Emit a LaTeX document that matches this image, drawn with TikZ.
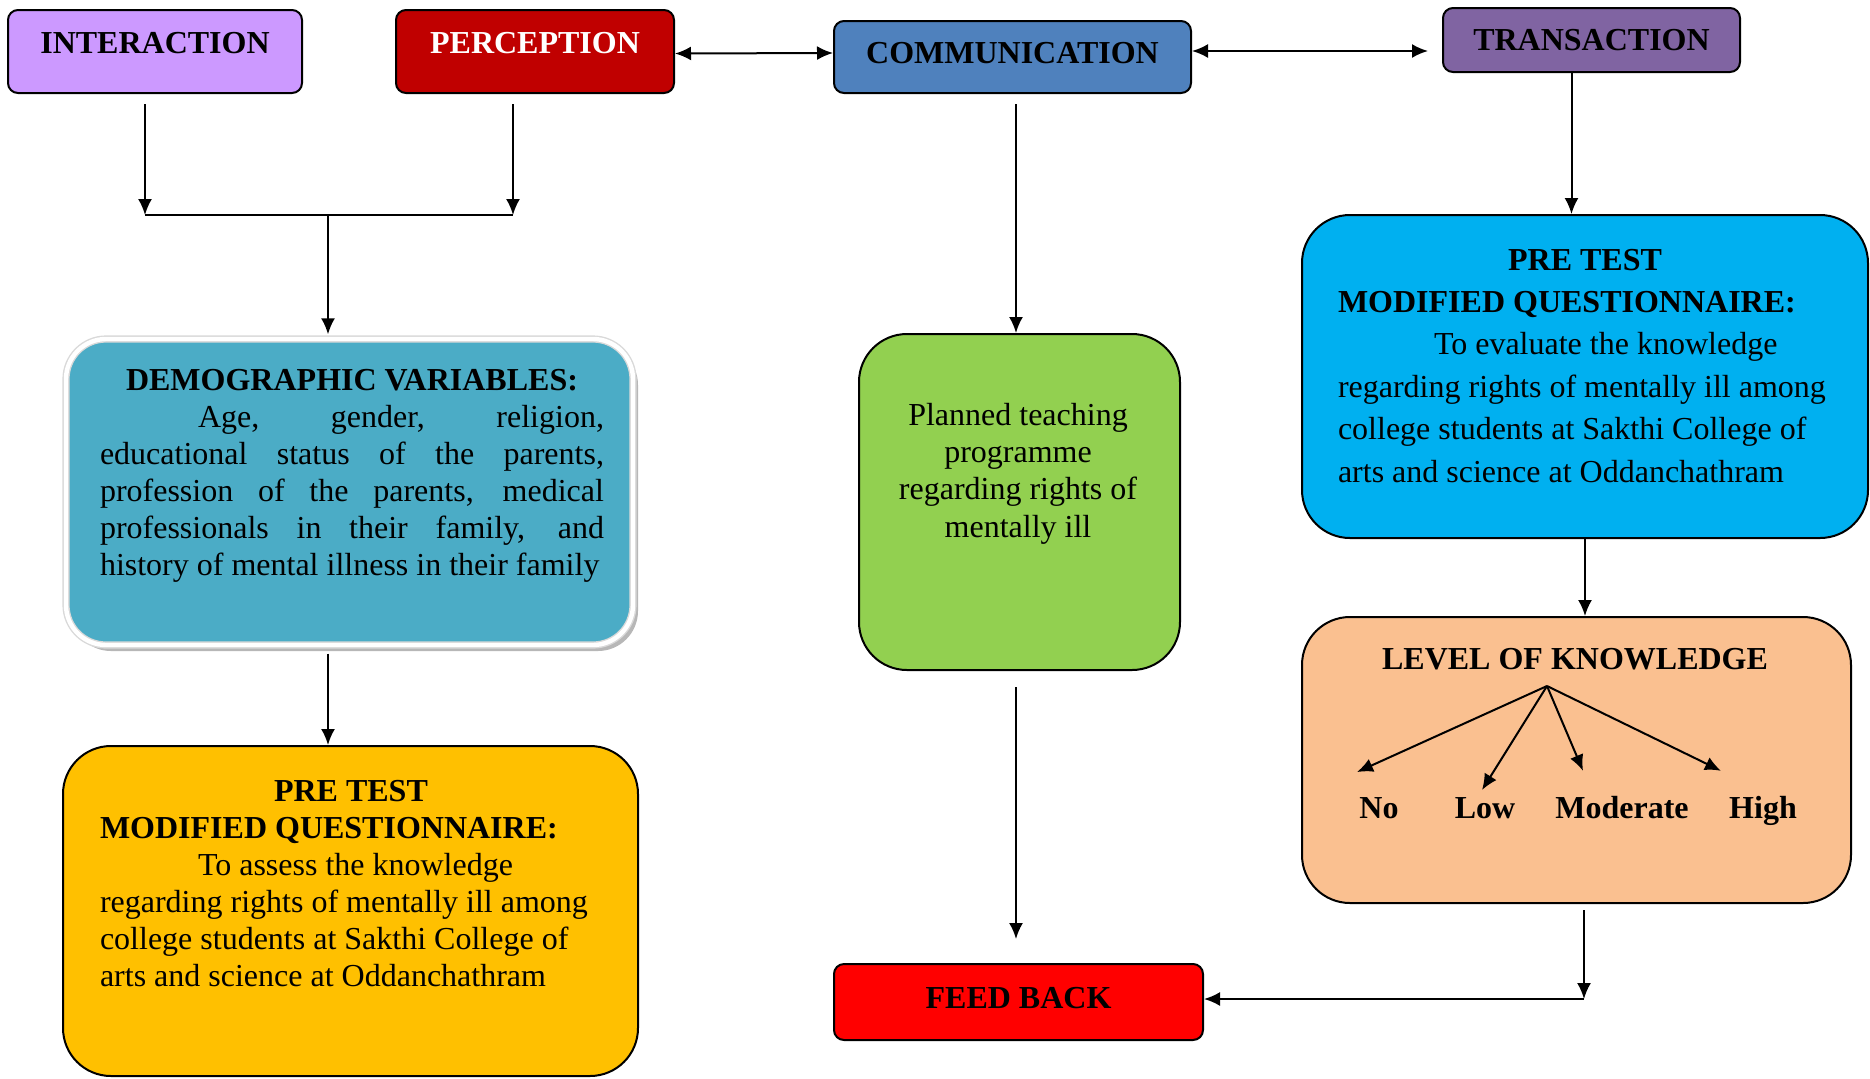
\documentclass[tikz,border=0pt]{standalone}
\usepackage{fontspec}
\setmainfont{Liberation Serif}
\usetikzlibrary{arrows.meta,shadows}

\definecolor{interpurple}{HTML}{CC99FF}
\definecolor{percepred}{HTML}{C00000}
\definecolor{commblue}{HTML}{4F81BD}
\definecolor{transpurple}{HTML}{8064A2}
\definecolor{demoteal}{HTML}{4BACC6}
\definecolor{pretestgold}{HTML}{FFC000}
\definecolor{teachgreen}{HTML}{92D050}
\definecolor{pretestcyan}{HTML}{00B0F0}
\definecolor{levelorange}{HTML}{FAC090}
\definecolor{feedred}{HTML}{FF0000}

\begin{document}
\begin{tikzpicture}[x=0.5pt,y=-0.5pt,
  >={Latex[length=8pt,width=7pt]}, line width=1pt,
  font=\fontsize{16}{18.5}\selectfont,
  headbox/.style={draw, line width=1pt, rounded corners=5pt, inner sep=0pt,
    font=\fontsize{16}{18.5}\selectfont\bfseries},
  bigbox/.style={draw, line width=1pt, rounded corners=24pt, inner sep=0pt},
  txt/.style={inner sep=0pt, anchor=base west},
  lvl/.style={inner sep=0pt, anchor=base, font=\fontsize{16}{18.5}\selectfont\bfseries}]

\useasboundingbox (0,0) rectangle (1870,1078);

% top row
\node (inter) at (155,51.5) [headbox, fill=interpurple, minimum width=147pt, minimum height=41.5pt, text height=11pt, text depth=9.5pt] {INTERACTION};
\node (percep) at (535,51.5) [headbox, fill=percepred, text=white, minimum width=139pt, minimum height=41.5pt, text height=11pt, text depth=9.5pt] {PERCEPTION};
\node (comm) at (1012.5,57) [headbox, fill=commblue, minimum width=178.5pt, minimum height=36pt, text height=11pt, text depth=5pt] {COMMUNICATION};
\node (trans) at (1591.5,40) [headbox, fill=transpurple, minimum width=148.5pt, minimum height=32pt] {TRANSACTION};

% left column
\node (demo) at (349.5,492) [bigbox, rounded corners=20pt, fill=demoteal, draw=gray!30, double=white, double distance=2.2pt, line width=0.7pt, minimum width=283.5pt, minimum height=153pt, drop shadow={shadow xshift=2.5pt, shadow yshift=-3pt, fill=gray!80, opacity=.7}] {};
\node (demotxt) at (99,390) [txt] {\parbox[t]{252pt}{{\centering\bfseries DEMOGRAPHIC VARIABLES:\par}
\hspace*{49pt}Age, gender, religion,\linebreak educational status of the parents,\linebreak profession of the parents, medical\linebreak professionals in their family, and\linebreak history of mental illness in their family}};

\node (preL) at (350.5,911) [bigbox, fill=pretestgold, minimum width=287.5pt, minimum height=165pt] {};
\node (preLtxt) at (99,801) [txt] {\parbox[t]{251pt}{{\centering\bfseries PRE TEST\par}\textbf{MODIFIED QUESTIONNAIRE:}\\
\hspace*{49pt}To assess the knowledge\\ regarding rights of mentally ill among\\ college students at Sakthi College of\\ arts and science at Oddanchathram}};

% middle column
\node (teach) at (1019.5,502) [bigbox, fill=teachgreen, minimum width=160.5pt, minimum height=168pt] {};
\node (teachtxt) at (1018,425) [inner sep=0pt, anchor=base] {\parbox[t]{170pt}{\centering\fontsize{16}{18.7}\selectfont Planned teaching\\ programme\\ regarding rights of\\ mentally ill}};
\node (feed) at (1018.5,1002) [headbox, fill=feedred, minimum width=184.5pt, minimum height=38pt, text height=11pt, text depth=5pt] {FEED BACK};

% right column
\node (preR) at (1585,376.5) [bigbox, fill=pretestcyan, minimum width=283pt, minimum height=161.5pt] {};
\node (preRtxt) at (1337,270) [txt] {\parbox[t]{247pt}{\fontsize{16}{21.2}\selectfont{\centering\bfseries PRE TEST\par}\textbf{MODIFIED QUESTIONNAIRE:}\\
\hspace*{48pt}To evaluate the knowledge\\ regarding rights of mentally ill among\\ college students at Sakthi College of\\ arts and science at Oddanchathram}};

\node (level) at (1576.5,760) [bigbox, fill=levelorange, minimum width=274.5pt, minimum height=143pt] {};
\node (lvltitle) at (1575,669) [lvl] {LEVEL OF KNOWLEDGE};
\node (no) at (1379,818) [lvl] {No};
\node (low) at (1485,818) [lvl] {Low};
\node (mod) at (1622,818) [lvl] {Moderate};
\node (high) at (1763,818) [lvl] {High};
\coordinate (fan) at (1547,686);
\draw [->] (fan) -- ([xshift=-11pt,yshift=12pt]no.north);
\draw [->] (fan) -- ([xshift=-1.5pt,yshift=3pt]low.north);
\draw [->] (fan) -- ([xshift=-19.5pt,yshift=12pt]mod.north);
\draw [->] (fan) -- ([xshift=-21pt,yshift=12pt]high.north);

% connectors
\coordinate (jl) at (145,215);
\coordinate (jr) at (513,215);
\coordinate (jm) at (328,215);
\coordinate (cm) at (1016,0);
\coordinate (kc) at (1584,999);

\draw [->, shorten <=5pt] (inter.south -| jl) -- (jl);
\draw [->, shorten <=5pt] (percep.south -| jr) -- (jr);
\draw (jl) -- (jr);
\draw [->, shorten >=2pt] (jm) -- (demo.north -| jm);
\draw [->, shorten <=4pt] (demo.south -| jm) -- (preL.north -| jm);

\draw [<->] ([yshift=-1pt]percep.east) -- ([yshift=2pt]comm.west);
\draw [<->, shorten >=7pt] ([yshift=3pt]comm.east) -- ([yshift=3pt]comm.east -| trans.west);
\draw [->, shorten <=5pt] (comm.south -| cm) -- (teach.north -| cm);
\draw [->, shorten <=8pt, shorten >=12pt] (teach.south -| cm) -- (feed.north -| cm);

\draw [->] ([xshift=-10pt]trans.south) -- ([xshift=-10pt]trans.south |- preR.north);
\draw [->] (preR.south) -- (preR.south |- level.north);
\draw [->, shorten <=3pt] (level.south -| kc) -- (kc);
\draw [->] (kc) -- (feed.east |- kc);

\end{tikzpicture}
\end{document}
